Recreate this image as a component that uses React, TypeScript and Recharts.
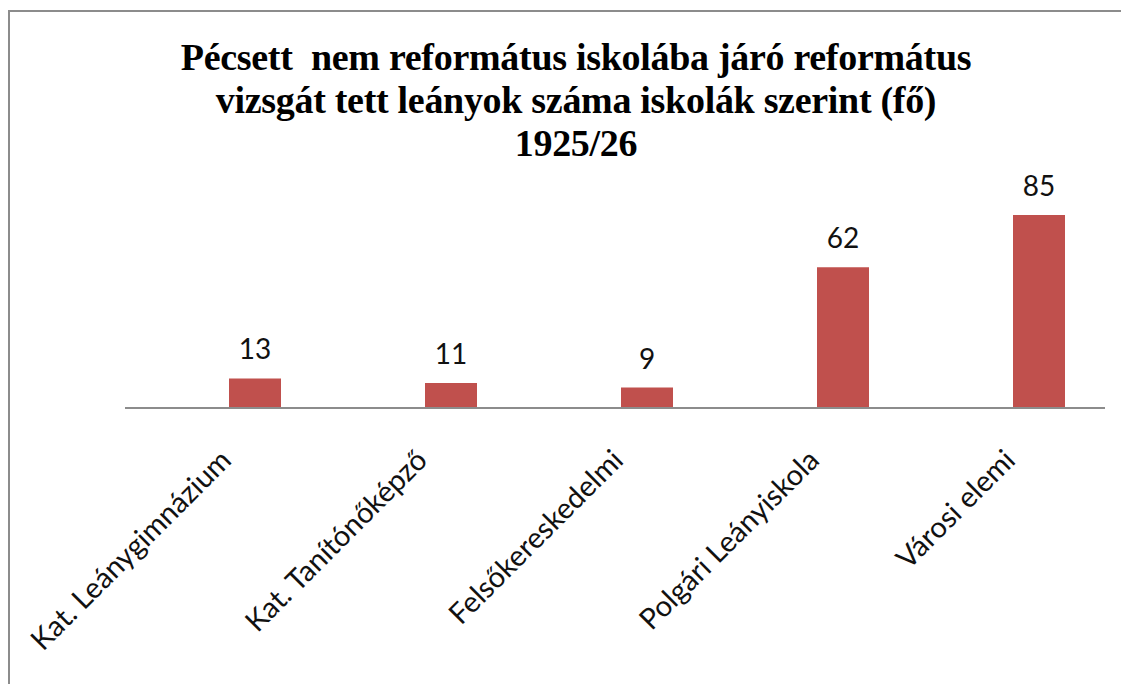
import React from "react";
import { BarChart, Bar, XAxis, YAxis, LabelList } from "recharts";

const categories = [
  "Kat. Leánygimnázium",
  "Kat. Tanítónőképző",
  "Felsőkereskedelmi",
  "Polgári Leányiskola",
  "Városi elemi",
];
const values = [13, 11, 9, 62, 85];
const titleLines = [
  "Pécsett  nem református iskolába járó református",
  "vizsgát tett leányok száma iskolák szerint (fő)",
  "1925/26",
];

const data = categories.map((name, i) => ({ name, value: values[i] }));

const LABEL_FONT = "Lato, 'Open Sans', sans-serif";

const RotTick = (props: any) => {
  const { x, y, payload } = props;
  const tx = x - 22;
  const ty = y + 54;
  return (
    <text
      x={tx}
      y={ty}
      transform={`rotate(-45, ${tx}, ${ty})`}
      textAnchor="end"
      fontFamily={LABEL_FONT}
      fontSize={29}
      fill="#111"
    >
      {payload.value}
    </text>
  );
};

export default function App() {
  return (
    <div
      style={{
        position: "relative",
        width: 1121,
        height: 674,
        marginTop: 2,
        borderTop: "2px solid #8c8c8c",
        borderLeft: "2px solid #8c8c8c",
        background: "#fff",
        overflow: "hidden",
      }}
    >
      <div
        style={{
          position: "absolute",
          left: 0,
          width: 1132,
          top: 24,
          textAlign: "center",
          fontFamily: "'Liberation Serif', 'Times New Roman', serif",
          fontWeight: "bold",
          fontSize: 38,
          lineHeight: "43px",
          letterSpacing: "-0.3px",
          color: "#000",
        }}
      >
        {titleLines.map((l, i) => (
          <div key={i} style={{ whiteSpace: "pre" }}>{l}</div>
        ))}
      </div>
      <div style={{ position: "absolute", left: 0, top: 0 }}>
        <BarChart
          width={1119}
          height={672}
          data={data}
          margin={{ top: 169, right: 24, left: 115, bottom: 0 }}
        >
          <YAxis hide domain={[0, 100]} />
          <XAxis
            dataKey="name"
            height={276}
            padding={{ left: 32, right: -32 }}
            axisLine={{ stroke: "#8c8c8c", strokeWidth: 2 }}
            tickLine={false}
            tickSize={0}
            tickMargin={0}
            interval={0}
            tick={<RotTick />}
          />
          <Bar dataKey="value" fill="#C0504D" barSize={52} isAnimationActive={false}>
            <LabelList
              dataKey="value"
              position="top"
              offset={19}
              fontFamily={LABEL_FONT}
              fontSize={28}
              fill="#111"
            />
          </Bar>
        </BarChart>
      </div>
    </div>
  );
}
